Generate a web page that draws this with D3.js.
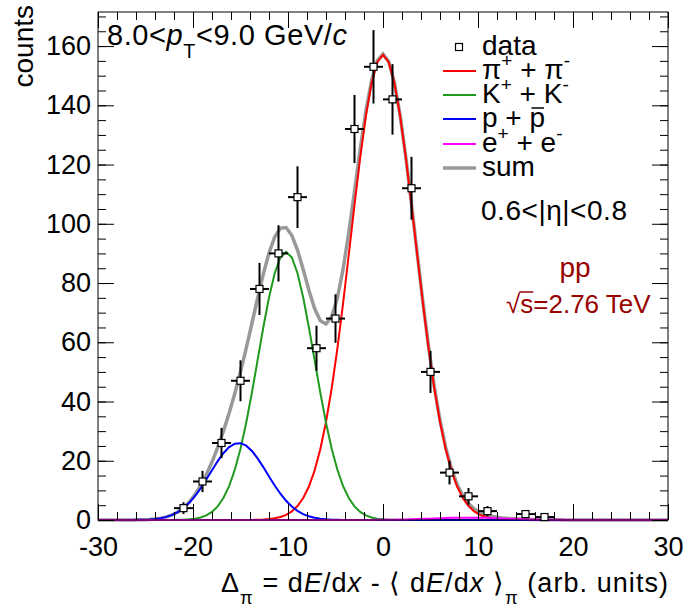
<!DOCTYPE html>
<html>
<head>
<meta charset="utf-8">
<script src="https://cdn.jsdelivr.net/npm/d3@7"></script>
<style>
  body { margin: 0; background: #fff; }
  svg text { font-family: "Liberation Sans", Arial, sans-serif; }
</style>
</head>
<body>
<svg id="chart" width="688" height="610"></svg>
<script>
// measured histogram (bin centres, counts, stat. errors)
const binCenters = [-21, -19, -17, -15, -13, -11, -9, -7, -5, -3, -1, 1, 3, 5, 7, 9, 11, 15, 17];
const counts     = [4, 13, 26, 47, 78, 90, 109, 58, 68, 132, 153, 142, 112, 50, 16, 8, 3, 2, 1];
const countErr   = [2, 3.6, 5.1, 6.9, 8.8, 9.5, 10.4, 7.6, 8.2, 11.5, 12.4, 11.9, 10.6, 7.1, 4, 2.8, 1.7, 1.4, 1];
const binHalfWidth = 1;

// gaussian fit components: pi, K, p, e
const compNames = ["pi", "K", "p", "e"];
const compAmp   = [157, 90.5, 26, 0.8];
const compMean  = [0, -10.2, -15.2, 9];
const compSigma = [3.4, 2.95, 3.0, 4.0];

const xMajorTicks = [-30, -20, -10, 0, 10, 20, 30];
const yMajorTicks = [0, 20, 40, 60, 80, 100, 120, 140, 160];

const W = 688, H = 610;
const margin = { left: 98, right: 20, top: 12, bottom: 90 };
const svg = d3.select("#chart");

const x = d3.scaleLinear().domain([-30, 30]).range([margin.left, W - margin.right]);
const y = d3.scaleLinear().domain([0, 171.5]).range([H - margin.bottom, margin.top]);

const compColor = { pi: "#ff0000", K: "#1f9a1f", p: "#0000ff", e: "#ff00ff" };

// curves, sampled like a TF1 (100 steps)
const xs = d3.range(101).map(i => -30 + i * 0.6);
const gaus = (k, v) => compAmp[k] * Math.exp(-0.5 * Math.pow((v - compMean[k]) / compSigma[k], 2));
const line = d3.line().x(d => x(d[0])).y(d => y(d[1]));

const sumPts = xs.map(v => [v, d3.sum(compNames, (n, k) => gaus(k, v))]);
svg.append("path").attr("d", line(sumPts))
  .attr("fill", "none").attr("stroke", "#999").attr("stroke-width", 3.5);

compNames.forEach((n, k) => {
  svg.append("path").attr("d", line(xs.map(v => [v, gaus(k, v)])))
    .attr("fill", "none").attr("stroke", compColor[n]).attr("stroke-width", 2);
});

// frame + axes
const plotW = W - margin.left - margin.right, plotH = H - margin.top - margin.bottom;
svg.append("rect").attr("x", margin.left).attr("y", margin.top)
  .attr("width", plotW).attr("height", plotH)
  .attr("fill", "none").attr("stroke", "#000").attr("stroke-width", 1);

const xMinor = d3.range(-30, 30.1, 2);
const yMinor = d3.range(0, 171, 5);

function styleAxis(g) {
  g.selectAll(".domain").remove();
  g.selectAll("line").attr("stroke", "#000");
  g.selectAll("text").attr("font-size", 27).attr("fill", "#000")
    .style("font-family", '"Liberation Sans", Arial, sans-serif');
}
const plain = d => String(d);

svg.append("g").attr("transform", `translate(0,${y(0)})`)
  .call(d3.axisBottom(x).tickValues(xMinor).tickSize(-8).tickFormat("")).call(styleAxis);
svg.append("g").attr("transform", `translate(0,${y(0)})`)
  .call(d3.axisBottom(x).tickValues(xMajorTicks).tickSize(-16).tickPadding(17).tickFormat(plain))
  .call(styleAxis);
svg.append("g").attr("transform", `translate(0,${margin.top})`)
  .call(d3.axisTop(x).tickValues(xMinor).tickSize(-8).tickFormat("")).call(styleAxis);
svg.append("g").attr("transform", `translate(0,${margin.top})`)
  .call(d3.axisTop(x).tickValues(xMajorTicks).tickSize(-16).tickFormat("")).call(styleAxis);

svg.append("g").attr("transform", `translate(${margin.left},0)`)
  .call(d3.axisLeft(y).tickValues(yMinor).tickSize(-8).tickFormat("")).call(styleAxis);
svg.append("g").attr("transform", `translate(${margin.left},0)`)
  .call(d3.axisLeft(y).tickValues(yMajorTicks).tickSize(-16).tickPadding(7).tickFormat(plain))
  .call(styleAxis);
svg.append("g").attr("transform", `translate(${W - margin.right},0)`)
  .call(d3.axisRight(y).tickValues(yMinor).tickSize(-8).tickFormat("")).call(styleAxis);
svg.append("g").attr("transform", `translate(${W - margin.right},0)`)
  .call(d3.axisRight(y).tickValues(yMajorTicks).tickSize(-16).tickFormat("")).call(styleAxis);

// data points
const pts = svg.append("g");
binCenters.forEach((c, i) => {
  const g = pts.append("g");
  g.append("line").attr("x1", x(c - binHalfWidth)).attr("x2", x(c + binHalfWidth))
    .attr("y1", y(counts[i])).attr("y2", y(counts[i]))
    .attr("stroke", "#000").attr("stroke-width", 2);
  g.append("line").attr("x1", x(c)).attr("x2", x(c))
    .attr("y1", y(counts[i] - countErr[i])).attr("y2", y(counts[i] + countErr[i]))
    .attr("stroke", "#000").attr("stroke-width", 2);
  g.append("rect").attr("x", x(c) - 3.5).attr("y", y(counts[i]) - 3.5)
    .attr("width", 7).attr("height", 7)
    .attr("fill", "#fff").attr("stroke", "#000").attr("stroke-width", 1.2);
});

// text with sub/superscripts: parts = [[text, mode]]
function richText(px, py, parts, size, opts = {}) {
  const t = svg.append("text").attr("x", px).attr("y", py)
    .attr("font-size", size).attr("fill", opts.fill || "#000")
    .attr("text-anchor", opts.anchor || "start");
  if (opts.rotate) t.attr("transform", `rotate(${opts.rotate},${px},${py})`);
  if (opts.len) t.attr("textLength", opts.len).attr("lengthAdjust", "spacing");
  let shift = 0;
  parts.forEach(([s, mode]) => {
    const ts = t.append("tspan").text(s);
    let target = 0, fs = size;
    if (mode === "sup") { target = -0.42 * size; fs = size * 0.68; }
    if (mode === "sub") { target = 0.45 * size; fs = size * 0.68; }
    ts.attr("dy", target - shift).attr("font-size", fs);
    if (mode === "it") ts.attr("font-style", "italic");
    shift = target;
  });
  return t;
}

// axis titles
richText(33, 5, [["counts"]], 28, { anchor: "end", rotate: -90 });
richText(W - margin.right, 592, [
  ["\u0394"], ["\u03c0", "sub"], [" = d"], ["E", "it"], ["/d"], ["x", "it"],
  [" - \u27e8 d"], ["E", "it"], ["/d"], ["x", "it"], [" \u27e9"], ["\u03c0", "sub"], [" (arb. units)"]
], 27, { anchor: "end", len: 447 });

// labels
richText(107, 45, [["8.0<"], ["p", "it"], ["T", "sub"], ["<9.0 GeV/"], ["c", "it"]], 29, { len: 240 });
richText(481, 220, [["0.6<|\u03b7|<0.8"]], 28, { len: 146 });
richText(575, 277, [["pp"]], 28, { fill: "#990000", anchor: "middle" });
const rs = richText(506, 313, [["\u221as=2.76 TeV"]], 26, { fill: "#990000" });
{
  const node = rs.node();
  const e0 = node.getExtentOfChar(0), e1 = node.getExtentOfChar(1);
  svg.append("line").attr("x1", e0.x + e0.width - 1).attr("x2", e1.x + e1.width)
    .attr("y1", e0.y + 3).attr("y2", e0.y + 3)
    .attr("stroke", "#990000").attr("stroke-width", 1.5);
}

// legend
const legY = [47, 71, 95, 119, 144, 168];
const legX = 443, legTx = 482;
svg.append("rect").attr("x", 459 - 3.5).attr("y", legY[0] - 3.5).attr("width", 7).attr("height", 7)
  .attr("fill", "#fff").attr("stroke", "#000").attr("stroke-width", 1.2);
richText(legTx, legY[0] + 8, [["data"]], 28);
const legLabels = [
  [["\u03c0"], ["+", "sup"], [" + \u03c0", ""], ["-", "sup"]],
  [["K"], ["+", "sup"], [" + K"], ["-", "sup"]],
  [["p + p"]],
  [["e"], ["+", "sup"], [" + e"], ["-", "sup"]],
  [["sum"]]
];
const legColors = [compColor.pi, compColor.K, compColor.p, compColor.e, "#999"];
legLabels.forEach((parts, i) => {
  const ly = legY[i + 1];
  svg.append("line").attr("x1", legX).attr("x2", legX + 33).attr("y1", ly).attr("y2", ly)
    .attr("stroke", legColors[i]).attr("stroke-width", i === 4 ? 3.5 : 2);
  const t = richText(legTx, ly + 8, parts, 28);
  if (i === 2) {
    const node = t.node();
    const n = node.getNumberOfChars();
    const e = node.getExtentOfChar(n - 1);
    svg.append("line").attr("x1", e.x + 2).attr("x2", e.x + e.width - 1)
      .attr("y1", e.y + 6).attr("y2", e.y + 6).attr("stroke", "#000").attr("stroke-width", 1.5);
  }
});
</script>
</body>
</html>
